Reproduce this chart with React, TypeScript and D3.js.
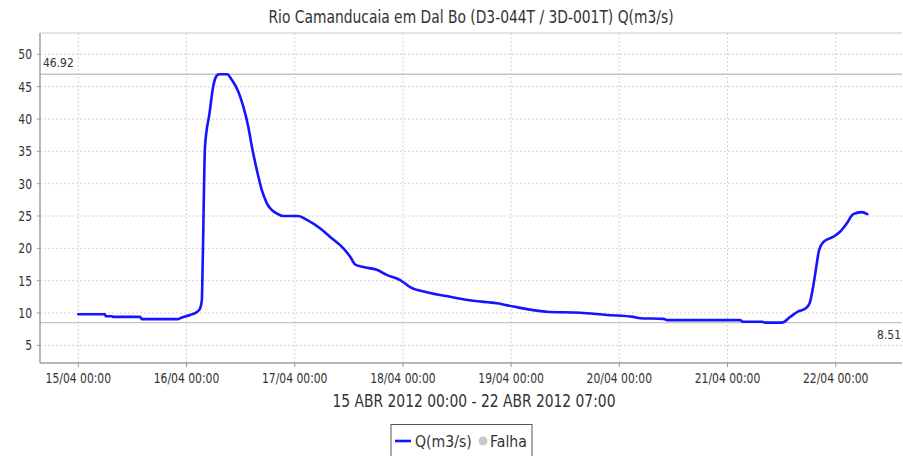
import * as d3 from 'd3'

// hours since 15/04/2012 00:00
const hours = [0, 5.9, 6.1, 7.5, 7.7, 13.7, 14.1, 22.1, 23.0, 24.8, 26.4, 27.0, 27.4, 27.6, 28.1, 29.1, 29.9, 30.7, 31.2, 33.0, 34.0, 35.5, 36.6, 37.7, 38.5, 39.6, 40.7, 41.8, 44.0, 45.4, 48.7, 50.7, 53.6, 55.8, 58.8, 60.3, 61.4, 63.2, 66.2, 68.4, 71.4, 73.6, 77.3, 82.5, 87.6, 92.8, 96.5, 99.5, 103.9, 111.3, 117.2, 123.1, 124.6, 129.8, 130.5, 146.8, 147.4, 151.7, 152.3, 156.1, 157.9, 159.6, 161.3, 162.2, 163.0, 163.7, 164.3, 165.3, 167.5, 169.0, 170.5, 171.9, 173.8, 175.0]
const flow = [9.8, 9.8, 9.5, 9.5, 9.4, 9.4, 9.05, 9.05, 9.3, 9.7, 10.2, 10.7, 12, 18.2, 35.7, 40.9, 45.0, 46.7, 46.92, 46.92, 46.1, 44.2, 41.9, 38.8, 35.7, 32.1, 29.0, 27.0, 25.4, 25.0, 25.0, 24.4, 23.1, 21.8, 20.0, 18.7, 17.5, 17.1, 16.7, 15.9, 15.1, 14.0, 13.2, 12.5, 11.9, 11.5, 11.0, 10.6, 10.2, 10.05, 9.7, 9.4, 9.2, 9.1, 8.9, 8.9, 8.66, 8.66, 8.51, 8.51, 9.4, 10.2, 10.7, 11.5, 14.1, 17.2, 19.7, 21.0, 21.8, 22.6, 23.9, 25.3, 25.6, 25.3]

const dayTicks = [15, 16, 17, 18, 19, 20, 21, 22]
const yTicks = [5, 10, 15, 20, 25, 30, 35, 40, 45, 50]
const maxFlow = 46.92
const minFlow = 8.51
const title = 'Rio Camanducaia em Dal Bo (D3-044T / 3D-001T) Q(m3/s)'
const periodLabel = '15 ABR 2012 00:00 - 22 ABR 2012 07:00'
const seriesName = 'Q(m3/s)'
const failName = 'Falha'

const W = 903
const H = 456
const HOUR = 3600 * 1000
const start = Date.UTC(2012, 3, 15)

const font = "'DejaVu Sans', sans-serif"
const SX = 0.77 // glyphs in the picture are squeezed horizontally

function Label({ x, y, size, anchor = 'start', sx = SX, fill = '#333', children }: any) {
  return (
    <text transform={`translate(${x},${y}) scale(${sx},1)`} fontSize={size} fontFamily={font}
      textAnchor={anchor} fill={fill}>{children}</text>
  )
}

export default function App() {
  const left = 40, right = 902, top = 33, bottom = 363

  const x = d3.scaleUtc()
    .domain([new Date(start - 8.5 * HOUR), new Date(start + 182.7 * HOUR)])
    .range([left, right])
  const y = d3.scaleLinear().domain([2.27, 53.3]).range([bottom, top])
  const fmt = d3.utcFormat('%d/%m %H:%M')

  const pts = hours.map((h, i) => [start + h * HOUR, flow[i]] as [number, number])
  const line = d3.line<[number, number]>()
    .x(d => x(new Date(d[0])))
    .y(d => y(d[1]))
    .curve(d3.curveMonotoneX)

  const ticks = dayTicks.map(d => new Date(Date.UTC(2012, 3, d)))

  return (
    <svg width={W} height={H} style={{ position: 'fixed', left: 0, top: 0, background: '#fff' }}>
      <rect width={W} height={H} fill="#fff" />
      <Label x={471} y={23} size={18} anchor="middle">{title}</Label>

      {/* grid */}
      {yTicks.map(v => (
        <line key={'gy' + v} x1={left} x2={right} y1={y(v)} y2={y(v)} stroke="#d4d4d4" strokeDasharray="2,2" />
      ))}
      {ticks.map((t, i) => (
        <line key={'gx' + i} x1={x(t)} x2={x(t)} y1={top} y2={bottom} stroke="#d4d4d4" strokeDasharray="2,2" />
      ))}

      {/* max / min markers */}
      <line x1={left} x2={right} y1={y(maxFlow)} y2={y(maxFlow)} stroke="#c4c4c4" strokeWidth={1.3} />
      <line x1={left} x2={right} y1={y(minFlow)} y2={y(minFlow)} stroke="#c4c4c4" strokeWidth={1.3} />
      <Label x={43} y={67} size={12.5} sx={0.86}>{maxFlow.toFixed(2)}</Label>
      <Label x={901} y={339} size={12.5} sx={0.86} anchor="end">{minFlow.toFixed(2)}</Label>

      {/* axes */}
      <line x1={left} x2={right} y1={top} y2={top} stroke="#c8c8c8" />
      <line x1={left} x2={left} y1={top} y2={bottom} stroke="#a0a0a0" strokeWidth={1.5} />
      <line x1={left} x2={right} y1={bottom} y2={bottom} stroke="#a0a0a0" strokeWidth={1.5} />
      {yTicks.map(v => (
        <g key={'ty' + v}>
          <line x1={left - 3} x2={left} y1={y(v)} y2={y(v)} stroke="#999" />
          <Label x={32} y={y(v) + 5} size={14} anchor="end">{v}</Label>
        </g>
      ))}
      {ticks.map((t, i) => (
        <g key={'tx' + i}>
          <line x1={x(t)} x2={x(t)} y1={bottom} y2={bottom + 4} stroke="#999" />
          <Label x={x(t)} y={383} size={14} anchor="middle">{fmt(t)}</Label>
        </g>
      ))}
      <Label x={474} y={407} size={18} anchor="middle">{periodLabel}</Label>

      {/* series */}
      <path d={line(pts) || ''} fill="none" stroke="#1414ff" strokeWidth={2.6} strokeLinejoin="round" strokeLinecap="round" />

      {/* legend */}
      <rect x={391} y={424.5} width={141} height={40} fill="#fff" stroke="#555" strokeWidth={1} />
      <line x1={395} x2={411} y1={441} y2={441} stroke="#1414ff" strokeWidth={2.6} />
      <Label x={415} y={447} size={16} sx={0.88}>{seriesName}</Label>
      <circle cx={483} cy={441} r={4.5} fill="#c8c8c8" />
      <Label x={490} y={447} size={16} sx={0.88}>{failName}</Label>
    </svg>
  )
}
